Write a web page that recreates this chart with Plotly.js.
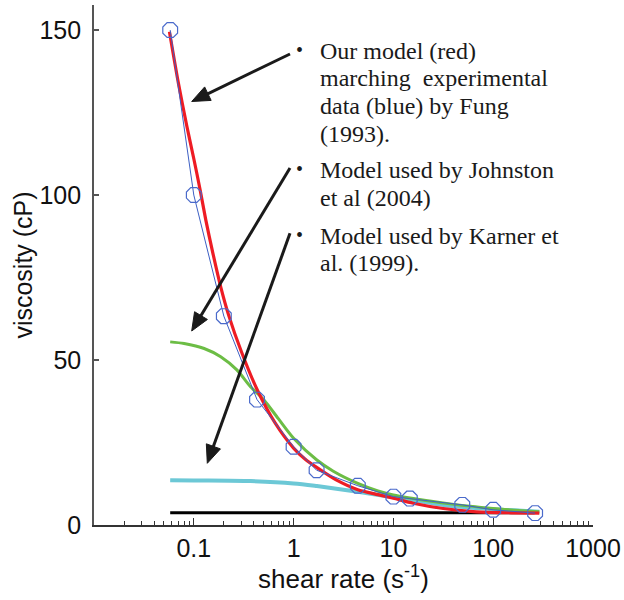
<!DOCTYPE html>
<html>
<head>
<meta charset="utf-8">
<script src="https://cdn.plot.ly/plotly-3.0.1.min.js"></script>
<style>html,body{margin:0;padding:0;background:#fff;}#chart{width:624px;height:600px;}</style>
</head>
<body>
<div id="chart"></div>
<script>
// ---- data ----
const fungShear = [0.058, 0.1, 0.2, 0.43, 1, 1.7, 4.4, 10, 14.6, 49, 100, 263];
const fungVisc  = [150, 100, 63.3, 38, 23.7, 16.6, 11.9, 8.6, 8.0, 6.1, 4.6, 3.6];

const redShear = [0.057, 0.07, 0.085, 0.1, 0.115, 0.132, 0.155, 0.186, 0.225, 0.3, 0.433, 0.65, 1, 1.3, 1.73, 2.7, 4.4, 7, 10, 15.8, 31.6, 68, 150, 290];
const redVisc  = [149.5, 134, 121, 111, 102, 92.4, 82.5, 72.2, 63.3, 52.5, 40.9, 31, 23.3, 20, 17.3, 13.6, 10.7, 9.2, 8.1, 6.6, 5.0, 4.0, 3.7, 3.6];

const greenShear = [0.058, 0.08, 0.127, 0.186, 0.27, 0.37, 0.505, 0.7, 1, 1.71, 2.5, 4.4, 7, 10, 25, 37, 100, 290];
const greenVisc  = [55.5, 55.0, 53.5, 51, 47, 41.9, 37.9, 32.3, 26.3, 19.7, 16.3, 12.6, 10.3, 9.1, 7.1, 6.4, 5.0, 4.0];

const cyanShear = [0.058, 0.1, 0.37, 1, 1.71, 4.4, 10, 25, 37, 100, 290];
const cyanVisc  = [13.6, 13.5, 13.3, 12.6, 11.8, 10.1, 8.4, 6.6, 5.8, 4.8, 4.0];

const blackShear = [0.058, 260];
const blackVisc  = [3.7, 3.7];

const xTickVals = [0.1, 1, 10, 100, 1000];
const xTickText = ['0.1', '1', '10', '100', '1000'];
const yTickVals = [0, 50, 100, 150];

const noteLines = [
  ['Our model (red)', 'marching  experimental', 'data (blue) by Fung', '(1993).'],
  ['Model used by Johnston', 'et al (2004)'],
  ['Model used by Karner et', 'al. (1999).']
];

// ---- layout helpers (pixel -> paper) ----
const L = 94, T = 5, W = 499, H = 520;
const px = p => (p - L) / W;
const py = p => (T + H - p) / H;

const traces = [
  {x: blackShear, y: blackVisc, mode: 'lines', line: {color: '#000000', width: 3}},
  {x: cyanShear, y: cyanVisc, mode: 'lines', line: {color: '#6cc8d6', width: 4, shape: 'spline', smoothing: 0.8}},
  {x: greenShear, y: greenVisc, mode: 'lines', line: {color: '#6cbd45', width: 3, shape: 'spline', smoothing: 0.8}},
  {x: redShear, y: redVisc, mode: 'lines', line: {color: '#ee1c24', width: 3.2, shape: 'spline', smoothing: 0.7}},
  {x: fungShear, y: fungVisc, mode: 'lines+markers', line: {color: '#3d5fc4', width: 1},
   marker: {symbol: 'octagon-open', size: 16, color: '#4a6acb', line: {width: 1.2}}}
];

// arrows drawn as shapes: [tipX, tipY, tailX, tailY] in pixels
const arrows = [[191.7, 101.5, 290, 54], [191.7, 331, 290, 168], [207.3, 463.3, 290, 233.3]];
const shapes = [];
const headLen = 18, headHalf = 7.5;
arrows.forEach(a => {
  const dx = a[2] - a[0], dy = a[3] - a[1];
  const len = Math.hypot(dx, dy), ux = dx / len, uy = dy / len;
  const bx = a[0] + ux * headLen, by = a[1] + uy * headLen;
  const c1x = bx - uy * headHalf, c1y = by + ux * headHalf;
  const c2x = bx + uy * headHalf, c2y = by - ux * headHalf;
  shapes.push({type: 'line', xref: 'paper', yref: 'paper',
    x0: px(a[2]), y0: py(a[3]), x1: px(bx - ux * 2), y1: py(by - uy * 2),
    line: {color: '#1a1a1a', width: 3}});
  shapes.push({type: 'path', xref: 'paper', yref: 'paper',
    path: `M${px(a[0])},${py(a[1])} L${px(c1x)},${py(c1y)} L${px(c2x)},${py(c2y)} Z`,
    fillcolor: '#1a1a1a', line: {color: '#1a1a1a', width: 1}});
});

const annotations = [];
const blockTops = [50.7, 170, 235.5];
const lineGap = 27.7;
noteLines.forEach((lines, bi) => {
  annotations.push({xref: 'paper', yref: 'paper', x: px(299), y: py(blockTops[bi] - 1),
    text: '\u2022', showarrow: false, xanchor: 'center', yanchor: 'middle',
    font: {family: 'Liberation Serif', size: 20, color: '#1a1a1a'}});
  lines.forEach((t, li) => annotations.push({
    xref: 'paper', yref: 'paper', x: px(318), y: py(blockTops[bi] + li * lineGap),
    text: t, showarrow: false, xanchor: 'left', yanchor: 'middle',
    font: {family: 'Liberation Serif', size: 24, color: '#1a1a1a'}
  }));
});

const layout = {
  width: 624, height: 600,
  margin: {l: L, r: 624 - L - W, t: T, b: 600 - T - H},
  paper_bgcolor: '#ffffff', plot_bgcolor: '#ffffff',
  showlegend: false,
  font: {family: 'Liberation Sans, Arial, sans-serif', color: '#111'},
  xaxis: {
    type: 'log', range: [-2, 3], showgrid: false, zeroline: false,
    showline: true, linecolor: '#333', linewidth: 1.5, mirror: false,
    ticks: 'inside', ticklen: 7, tickwidth: 1.2, tickcolor: '#333',
    tickmode: 'array', tickvals: xTickVals, ticktext: xTickText,
    tickfont: {size: 25, family: 'Liberation Sans'},
    minor: {ticks: 'inside', ticklen: 4, tickwidth: 1, tickcolor: '#333', dtick: 'D1', showgrid: false},
    title: {text: 'shear rate (s<sup>-1</sup>)', font: {size: 26, family: 'Liberation Sans'}, standoff: 5},
    automargin: false
  },
  yaxis: {
    range: [0, 157.6], showgrid: false, zeroline: false,
    showline: true, linecolor: '#555', linewidth: 1.8, mirror: false,
    ticks: 'inside', ticklen: 5, tickwidth: 1.2, tickcolor: '#555',
    tickmode: 'array', tickvals: yTickVals,
    tickfont: {size: 25, family: 'Liberation Sans'},
    ticklabelstandoff: 6,
    title: {text: 'viscosity (cP)', font: {size: 25, family: 'Liberation Sans'}, standoff: 0},
    automargin: false
  },
  shapes: shapes,
  annotations: annotations
};

Plotly.newPlot('chart', traces, layout, {displayModeBar: false, staticPlot: true});
</script>
</body>
</html>
